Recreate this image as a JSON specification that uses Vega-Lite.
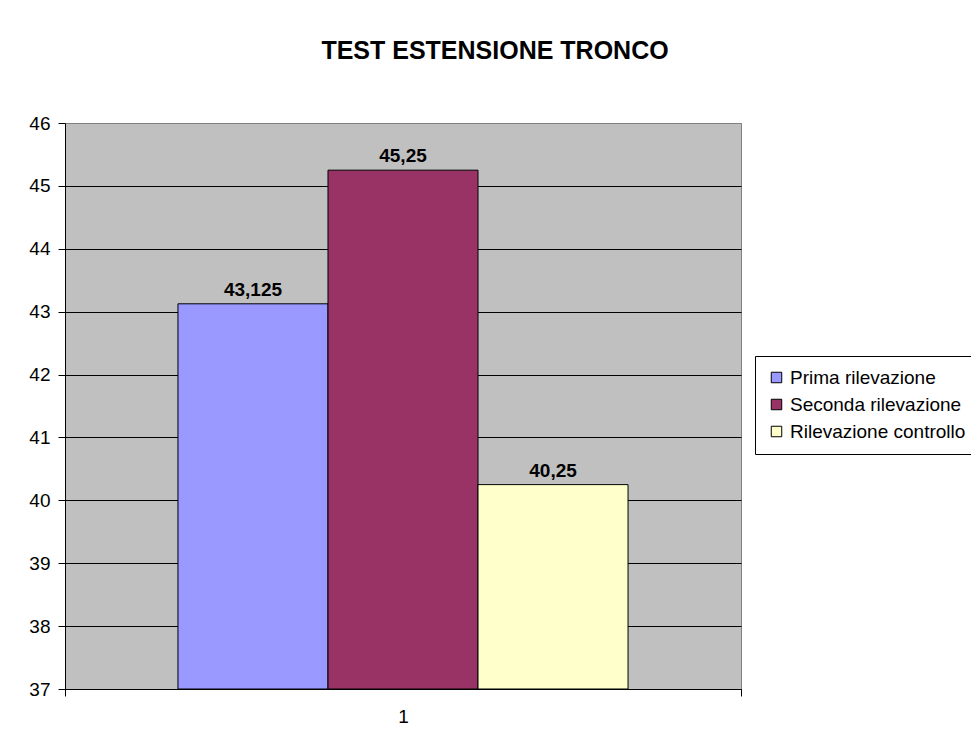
{
  "$schema": "https://vega.github.io/schema/vega-lite/v6.json",
  "autosize": {"type": "none"},
  "width": 676,
  "height": 566,
  "padding": {"left": 65, "top": 123, "right": 230, "bottom": 58},
  "background": "white",
  "title": {
    "text": "TEST ESTENSIONE TRONCO",
    "font": "Liberation Sans",
    "fontSize": 25,
    "fontWeight": "bold",
    "color": "black",
    "anchor": "middle",
    "baseline": "alphabetic",
    "offset": 30,
    "dx": 92
  },
  "data": {
    "values": [
      {"categoria": "1", "serie": "Prima rilevazione", "valore": 43.125},
      {"categoria": "1", "serie": "Seconda rilevazione", "valore": 45.25},
      {"categoria": "1", "serie": "Rilevazione controllo", "valore": 40.25}
    ]
  },
  "encoding": {
    "x": {
      "field": "categoria",
      "type": "nominal",
      "scale": {"paddingInner": 0, "paddingOuter": 0},
      "axis": {
        "title": null,
        "labelAngle": 0,
        "tickBand": "extent",
        "domainColor": "black",
        "tickColor": "black",
        "tickSize": 7,
        "labelPadding": 11,
        "labelFont": "Liberation Sans",
        "labelFontSize": 19,
        "labelColor": "black",
        "grid": false
      }
    },
    "xOffset": {
      "field": "serie",
      "type": "nominal",
      "scale": {
        "domain": ["Prima rilevazione", "Seconda rilevazione", "Rilevazione controllo"],
        "paddingInner": 0,
        "paddingOuter": 0.753
      }
    },
    "y": {
      "field": "valore",
      "type": "quantitative",
      "scale": {"domain": [37, 46], "zero": false, "nice": false},
      "axis": {
        "title": null,
        "values": [37, 38, 39, 40, 41, 42, 43, 44, 45, 46],
        "format": "d",
        "grid": true,
        "gridColor": {"condition": {"test": "datum.value == 46", "value": "#808080"}, "value": "black"},
        "gridWidth": 1,
        "domainColor": "black",
        "tickColor": "black",
        "tickSize": 7,
        "labelPadding": 8,
        "labelFont": "Liberation Sans",
        "labelFontSize": 19,
        "labelColor": "black"
      }
    }
  },
  "layer": [
    {
      "mark": {"type": "bar", "stroke": "black", "strokeWidth": 1},
      "encoding": {
        "y2": {"datum": 37},
        "color": {
          "field": "serie",
          "type": "nominal",
          "scale": {
            "domain": ["Prima rilevazione", "Seconda rilevazione", "Rilevazione controllo"],
            "range": ["#9999FF", "#993366", "#FFFFCC"]
          },
          "legend": {
            "title": null,
            "orient": "none",
            "legendX": 690,
            "legendY": 233,
            "direction": "vertical",
            "symbolType": "square",
            "symbolSize": 110,
            "symbolStrokeColor": "black",
            "symbolStrokeWidth": 1,
            "labelFont": "Liberation Sans",
            "labelFontSize": 19,
            "labelColor": "black",
            "labelOffset": 4,
            "rowPadding": 7,
            "padding": 12,
            "strokeColor": "black",
            "fillColor": "white",
            "labelLimit": 300
          }
        }
      }
    },
    {
      "mark": {
        "type": "text",
        "baseline": "bottom",
        "dy": -4,
        "font": "Liberation Sans",
        "fontSize": 19,
        "fontWeight": "bold",
        "color": "black"
      },
      "encoding": {
        "text": {"field": "valore", "type": "quantitative", "format": "~g"}
      }
    }
  ],
  "config": {
    "locale": {
      "number": {"decimal": ",", "thousands": ".", "grouping": [3], "currency": ["€", ""]}
    },
    "view": {"fill": "#C0C0C0", "stroke": "#808080", "strokeWidth": 1}
  }
}
